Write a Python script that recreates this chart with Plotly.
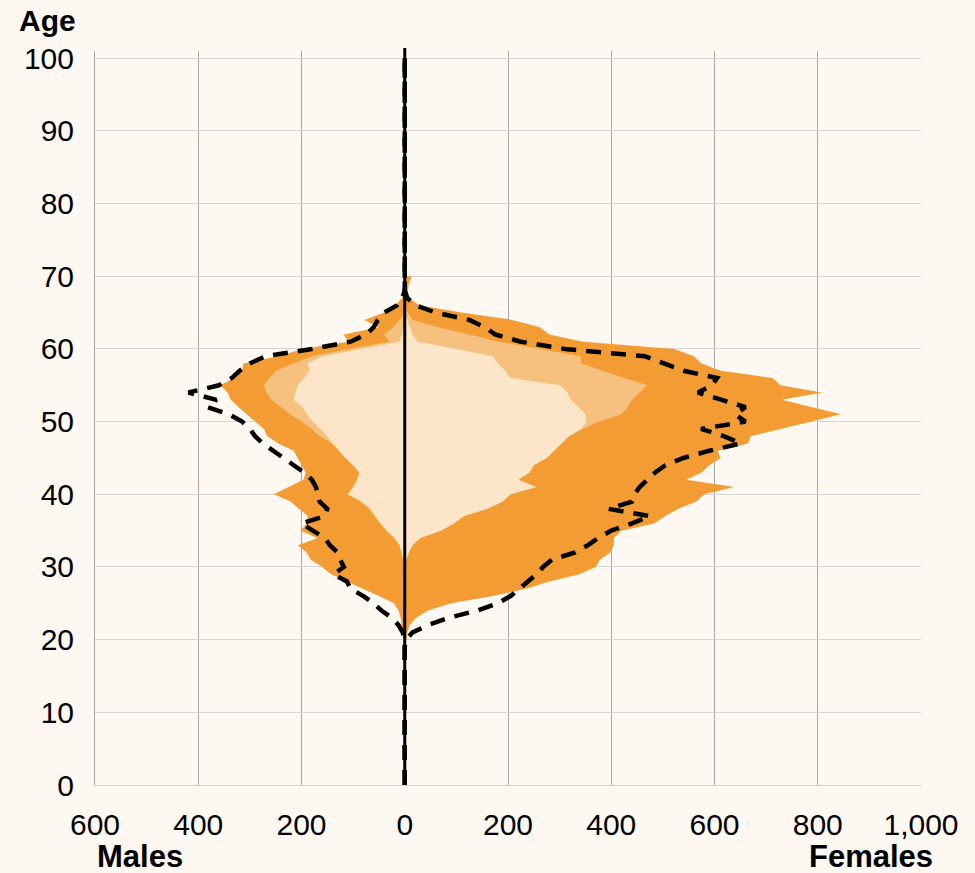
import plotly.graph_objects as go

# Single-year ages covered by the pyramid
ages = list(range(19, 71))

# Females (values per age, 19..70)
fem_total = [0, 2, 5, 10, 22, 45, 90, 170, 235, 280, 338, 370, 378, 398, 405, 405, 420,
             483, 505, 530, 565, 580, 638, 545, 575, 590, 612, 606, 665, 670, 727, 785,
             845, 787, 730, 808, 728, 712, 612, 575, 560, 522, 345, 280, 262, 208, 110,
             28, 8, 6, 8, 14]
fem_mid = [0, 0, 0, 0, 0, 0, 0, 0, 0, 0, 0, 0, 3, 8, 15, 30, 70, 95, 115, 160, 190, 205,
           255, 220, 242, 250, 275, 290, 305, 318, 345, 375, 420, 432, 440, 455, 470, 425,
           382, 342, 340, 262, 182, 125, 65, 15, 6, 0, 0, 0, 0, 0]
fem_inner = [0, 0, 0, 0, 0, 0, 0, 0, 0, 0, 0, 0, 3, 8, 15, 30, 70, 95, 115, 160, 190, 205,
             255, 220, 242, 250, 275, 290, 305, 318, 341, 352, 350, 335, 322, 315, 300, 205,
             195, 180, 170, 100, 25, 15, 10, 5, 0, 0, 0, 0, 0, 0]
fem_ref = [0, 3, 15, 45, 85, 140, 180, 205, 222, 240, 255, 268, 285, 330, 355, 375, 400,
           440, 475, 395, 440, 445, 455, 470, 485, 505, 540, 590, 651, 618, 574, 660, 640,
           660, 612, 568, 595, 605, 540, 505, 465, 310, 225, 175, 155, 125, 60, 22, 5, 0,
           0, 0]

# Males (values per age, 19..70)
male_total = [0, 2, 4, 5, 8, 12, 21, 50, 80, 110, 143, 160, 182, 190, 207, 169, 202, 190,
              188, 205, 221, 254, 225, 196, 192, 200, 207, 215, 245, 266, 273, 290, 305,
              322, 337, 343, 357, 330, 316, 312, 245, 198, 110, 118, 50, 78, 40, 18, 5, 3,
              1, 0]
male_mid = [0, 0, 0, 0, 0, 0, 0, 0, 0, 0, 0, 0, 3, 6, 10, 20, 35, 47, 58, 68, 85, 110, 100,
            92, 88, 100, 115, 128, 140, 165, 180, 200, 222, 240, 258, 268, 273, 262, 250,
            215, 180, 110, 30, 40, 22, 10, 0, 0, 0, 0, 0, 0]
male_inner = [0, 0, 0, 0, 0, 0, 0, 0, 0, 0, 0, 0, 3, 6, 10, 20, 35, 47, 58, 68, 85, 110,
              100, 92, 88, 100, 115, 128, 140, 150, 163, 178, 190, 198, 215, 212, 207, 195,
              184, 188, 160, 85, 10, 5, 3, 0, 0, 0, 0, 0, 0, 0]
male_ref = [0, 0, 4, 12, 25, 45, 60, 80, 105, 112, 138, 118, 125, 130, 145, 155, 178, 200,
            155, 150, 165, 168, 172, 180, 195, 215, 235, 255, 275, 290, 300, 315, 340, 382,
            365, 419, 360, 335, 320, 300, 270, 180, 105, 75, 60, 52, 40, 15, 5, 0, 0, 0]

# The reference outline runs along the whole age axis
line_ages = [0] + ages + [100]
fem_ref_full = [0] + fem_ref + [0]
male_ref_full = [0] + male_ref + [0]

x_ticks = [-600, -400, -200, 0, 200, 400, 600, 800, 1000]
x_tick_text = ["600", "400", "200", "0", "200", "400", "600", "800", "1,000"]
y_ticks = [0, 10, 20, 30, 40, 50, 60, 70, 80, 90, 100]

DARK = "#f39c33"
MID = "#f6c07e"
LIGHT = "#fde5c9"
BG = "#fdf8f2"
FONT = "Liberation Sans, Arial, sans-serif"

fig = go.Figure()


def area(xs, color):
    fig.add_trace(go.Scatter(x=xs, y=ages, mode="lines", fill="tozerox",
                             fillcolor=color, line=dict(width=0, color=color),
                             hoverinfo="skip", showlegend=False))


area(fem_total, DARK)
area([-v for v in male_total], DARK)
area(fem_mid, MID)
area([-v for v in male_mid], MID)
area(fem_inner, LIGHT)
area([-v for v in male_inner], LIGHT)

for xs in (fem_ref_full, [-v for v in male_ref_full]):
    fig.add_trace(go.Scatter(x=xs, y=line_ages, mode="lines",
                             line=dict(color="black", width=4.5, dash="15px,10px"),
                             hoverinfo="skip", showlegend=False))

# Centre axis between males and females
fig.add_shape(type="line", xref="x", yref="paper", x0=0, x1=0, y0=0, y1=1.004,
              line=dict(color="black", width=3), layer="above")

fig.update_layout(
    width=975, height=873,
    margin=dict(l=95, r=54, t=51, b=88),
    paper_bgcolor=BG, plot_bgcolor=BG,
    font=dict(family=FONT, size=30, color="black"),
    xaxis=dict(range=[-600, 1000], tickvals=x_ticks, ticktext=x_tick_text,
               showgrid=True, gridcolor="#a8a8a8", gridwidth=1, zeroline=False,
               showline=True, linecolor="#d0d0d0", linewidth=1,
               ticks="", ticklabelstandoff=13, fixedrange=True),
    yaxis=dict(range=[0, 101], tickvals=y_ticks,
               showgrid=True, gridcolor="#d6d6d6", gridwidth=1, zeroline=False,
               showline=True, linecolor="#a8a8a8", linewidth=1,
               ticks="", ticklabelstandoff=14, fixedrange=True),
    annotations=[
        dict(text="<b>Age</b>", xref="paper", yref="paper", x=-0.0945, y=1.0422,
             xanchor="left", yanchor="middle", showarrow=False, font=dict(size=30)),
        dict(text="<b>Males</b>", xref="paper", yref="paper", x=0.0, y=-0.098,
             xanchor="left", yanchor="middle", showarrow=False, font=dict(size=31)),
        dict(text="<b>Females</b>", xref="paper", yref="paper", x=1.0169, y=-0.098,
             xanchor="right", yanchor="middle", showarrow=False, font=dict(size=31)),
    ],
)

fig.write_html("out.html")
